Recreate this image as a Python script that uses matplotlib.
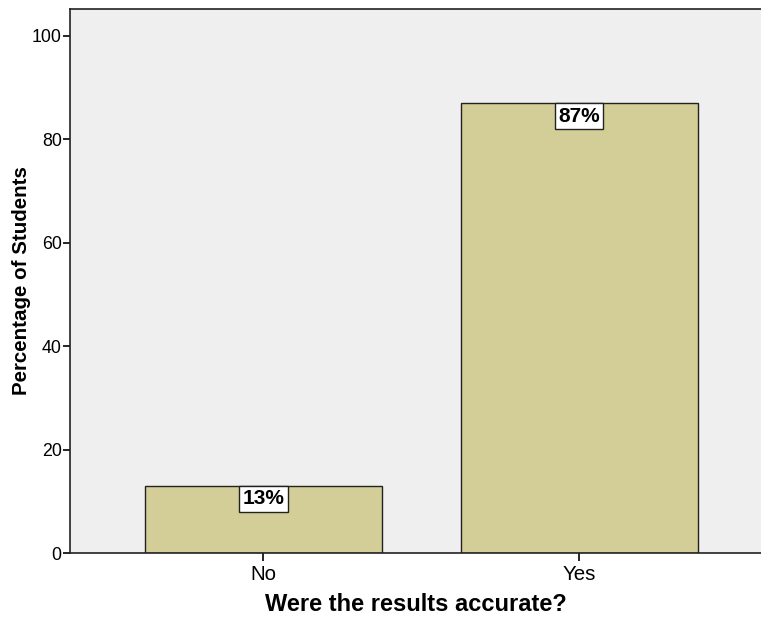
import matplotlib.pyplot as plt

plt.rcParams['font.family'] = ['Liberation Sans', 'DejaVu Sans']

# data
categories = ['No', 'Yes']
percentages = [13, 87]
bar_labels = ['13%', '87%']

fig = plt.figure(figsize=(7.61, 6.19), dpi=100)
ax = fig.add_axes([70 / 761, 66 / 619, 691 / 761, 544 / 619])
ax.set_facecolor('#EFEFEF')

x = range(len(categories))
ax.bar(x, percentages, width=0.75, color='#D3CE97', edgecolor='#222222', linewidth=1.0, zorder=2)

for xi, val, lab in zip(x, percentages, bar_labels):
    ax.text(xi, val - 0.7, lab, ha='center', va='top', fontsize=15, fontweight='bold',
            bbox=dict(boxstyle='square,pad=0.17', facecolor='white', edgecolor='#222222', linewidth=1.0),
            zorder=3)

ax.set_xlim(-0.612, 1.576)
ax.set_ylim(0, 105.2)
ax.set_xticks(list(x))
ax.set_xticklabels(categories, fontsize=14.8)
ax.set_yticks([0, 20, 40, 60, 80, 100])
ax.tick_params(axis='y', labelsize=12.8, direction='out', length=5, width=1.2, pad=1)
ax.tick_params(axis='x', direction='out', length=6, width=1.2, pad=3)

ax.spines['right'].set_visible(False)
for s in ['left', 'bottom', 'top']:
    ax.spines[s].set_linewidth(1.2)
    ax.spines[s].set_color('#222222')

ax.set_xlabel('Were the results accurate?', fontsize=17, fontweight='bold', labelpad=6)
ax.set_ylabel('Percentage of Students', fontsize=14.8, fontweight='bold')
ax.yaxis.set_label_coords(-0.056, 0.5)

fig.savefig('out.png', dpi=100)
